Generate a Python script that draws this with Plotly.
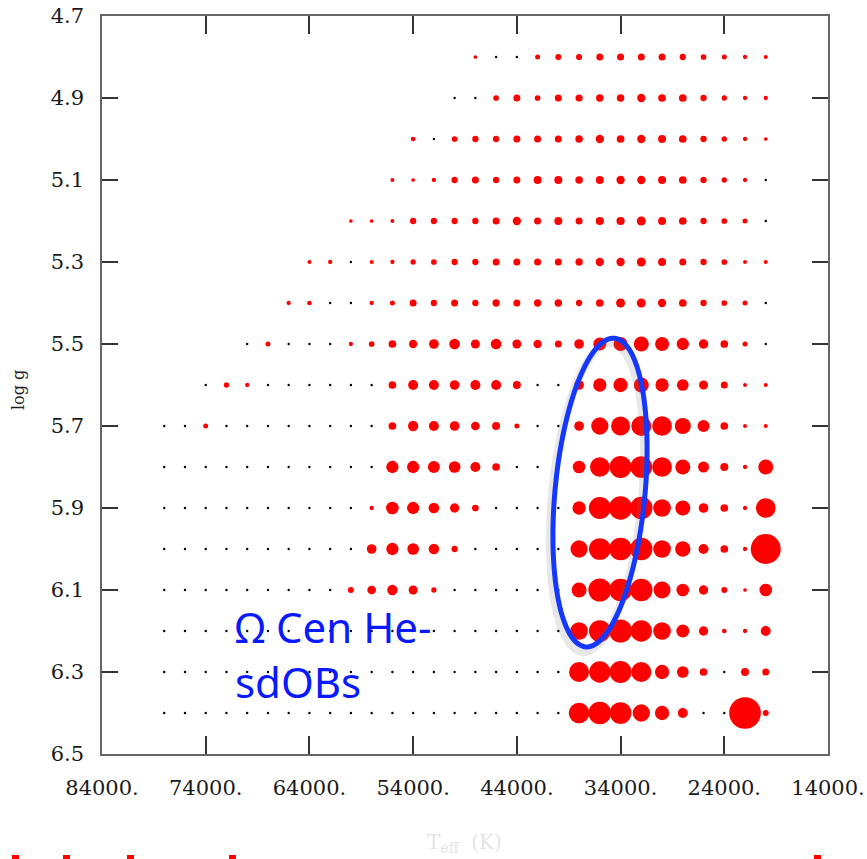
import numpy as np
import plotly.graph_objects as go

# ---------------- data ----------------
teff = [78000, 76000, 74000, 72000, 70000, 68000, 66000, 64000, 62000, 60000,
        58000, 56000, 54000, 52000, 50000, 48000, 46000, 44000, 42000, 40000,
        38000, 36000, 34000, 32000, 30000, 28000, 26000, 24000, 22000, 20000]

logg_rows = [4.8, 4.9, 5.0, 5.1, 5.2, 5.3, 5.4, 5.5, 5.6, 5.7, 5.8, 5.9, 6.0, 6.1, 6.2, 6.3, 6.4]

N = None  # no grid point
# weight per grid point (0 = computed, empty; None = not computed)
w48 = [N]*15 + [3.7, 0, 0, 5, 6, 6.2, 7, 7, 7, 7, 6.3, 5.7, 5, 4.3, 4]
w49 = [N]*14 + [0, 0, 5.7, 7, 5.7, 7, 7.2, 7.5, 7.5, 8.3, 7.7, 7.7, 6.3, 5.3, 4.3, 4.3]
w50 = [N]*12 + [4.7, 0, 5.7, 6.3, 6.3, 7, 7, 7, 7.5, 8.3, 7.7, 8.3, 8, 7.7, 6.3, 5.3, 4.3, 3.7]
w51 = [N]*11 + [4, 3.7, 4.3, 6.3, 7, 6.3, 7, 8, 8, 7.5, 8, 8.3, 8.3, 8, 7.7, 6.3, 5.3, 4.3, 0]
w52 = [N]*9 + [3.7, 3.7, 4, 6.3, 6.3, 6.3, 6.3, 7, 8.3, 7, 8, 7, 8.2, 8.2, 9, 8, 7.7, 6.3, 5.7, 5, 0]
w53 = [N]*7 + [4, 4.3, 0, 4, 4.3, 5.3, 5.7, 6.3, 6.3, 7, 7, 7, 7, 7.3, 8.3, 8.3, 9, 8, 7, 6.3, 5.7, 4, 4]
w54 = [N]*6 + [4.3, 4.7, 0, 0, 4.3, 5, 7, 6.3, 7, 6.3, 7.3, 7, 7.3, 7.5, 6.3, 7.7, 9, 9, 8.3, 7.7, 6.3, 5.7, 5, 0]
w55 = [N]*4 + [0, 5, 0, 0, 0, 4.3, 5.7, 7.7, 8.3, 9.7, 10.7, 9, 10.7, 9, 8.3, 7, 9.7, 13, 14, 15, 14, 12.3, 9.5, 7.7, 5, 0]
w56 = [N]*2 + [0, 5.3, 4.3, 0, 0, 0, 0, 0, 0, 7.7, 10, 10, 9.7, 10, 10, 8, 0, 0, 9.7, 13.3, 14.3, 15, 13.3, 11.7, 9, 7, 4, 4]
w57 = [0, 0, 5, 0, 0, 0, 0, 0, 0, 0, 0, 7.7, 10.3, 10, 9.7, 8.7, 8, 5, 0, 0, 9.7, 17.3, 19, 20, 19.7, 16, 12, 7.7, 4, 4]
w58 = [0]*11 + [12.3, 12.3, 12, 11.7, 10, 7.7, 0, 0, 0, 12.7, 19.7, 22, 21.7, 19.7, 15, 11, 8, 4.3, 15]
w59 = [0]*10 + [4.3, 12.7, 12.3, 10.7, 9.3, 6.7, 0, 0, 0, 0, 13.3, 22, 23.3, 22.3, 17.7, 15, 9.7, 7.7, 4.3, 19.7]
w60 = [0]*10 + [9.7, 12.3, 11.7, 10.5, 6.3, 0, 0, 0, 0, 0, 17.3, 21.7, 22.7, 22.3, 17.7, 15.3, 10, 7.7, 4.3, 30]
w61 = [0]*9 + [6, 8.7, 10.3, 9, 5.3, 0, 0, 0, 0, 0, 0, 15, 23, 22.7, 22.3, 17, 12.7, 9.3, 6, 3.7, 12.7]
w62 = [0]*7 + [2.7] + [0]*12 + [17.7, 21.7, 23, 21.3, 17.7, 13, 9.3, 4.7, 4.3, 10]
w63 = [0]*20 + [20, 21.3, 22, 20, 14.3, 11.7, 7.7, 0, 8, 7]
w64 = [0]*20 + [20.7, 22.7, 21.7, 17.3, 14.3, 10, 0, 0, 31.7, 6]

weights = [w48, w49, w50, w51, w52, w53, w54, w55, w56, w57, w58, w59, w60, w61, w62, w63, w64]

x_ticks = [84000, 74000, 64000, 54000, 44000, 34000, 24000, 14000]
x_ticktext = ["84000.", "74000.", "64000.", "54000.", "44000.", "34000.", "24000.", "14000."]
y_ticks = [4.7, 4.9, 5.1, 5.3, 5.5, 5.7, 5.9, 6.1, 6.3, 6.5]
y_ticktext = ["4.7", "4.9", "5.1", "5.3", "5.5", "5.7", "5.9", "6.1", "6.3", "6.5"]

# ---------------- layout constants ----------------
W, H = 867, 859
L, R, T, B = 102, 39, 16, 105
XMIN, XMAX = 84000, 14000
YMIN, YMAX = 4.7, 6.5
pw, ph = W - L - R, H - T - B

def px_to_data(px, py):
    x = XMIN + (px - L) / pw * (XMAX - XMIN)
    y = YMIN + (py - T) / ph * (YMAX - YMIN)
    return x, y

def px_to_paper(px, py):
    return (px - L) / pw, (H - B - py) / ph

# ---------------- marks ----------------
rx, ry, rs, bx, by = [], [], [], [], []
for g, row in zip(logg_rows, weights):
    for t, v in zip(teff, row):
        if v is None:
            continue
        if v > 0:
            rx.append(t); ry.append(g); rs.append(v)
        else:
            bx.append(t); by.append(g)

fig = go.Figure()
fig.add_trace(go.Scatter(x=bx, y=by, mode="markers",
                         marker=dict(color="black", size=2.4, line=dict(width=0)),
                         hoverinfo="skip", showlegend=False))
fig.add_trace(go.Scatter(x=rx, y=ry, mode="markers",
                         marker=dict(color="#ff0000", size=rs, sizemode="diameter",
                                     line=dict(width=0), opacity=1),
                         showlegend=False))

# ---------------- ellipse (annotation) ----------------
def ellipse_path(cx, cy, a, b, ux, uy, dx=0, dy=0, n=120):
    nrm = np.hypot(ux, uy); ux, uy = ux / nrm, uy / nrm
    vx, vy = -uy, ux
    t = np.linspace(0, 2 * np.pi, n)
    px = cx + dx + a * np.cos(t) * ux + b * np.sin(t) * vx
    py = cy + dy + a * np.cos(t) * uy + b * np.sin(t) * vy
    pts = [px_to_data(x, y) for x, y in zip(px, py)]
    return "M " + " L ".join(f"{x:.2f},{y:.5f}" for x, y in pts) + " Z"

shapes = []
shapes.append(dict(type="path", xref="x", yref="y",
                   path=ellipse_path(600, 492.5, 155, 45, 29, -309, dx=-3, dy=5),
                   line=dict(color="rgba(120,120,120,0.18)", width=8), layer="above"))
shapes.append(dict(type="path", xref="x", yref="y",
                   path=ellipse_path(600, 492.5, 155, 45, 29, -309),
                   line=dict(color="#1438ff", width=5), layer="above"))

# small red remnants at the bottom edge
for x0 in [12, 63, 127, 229, 814]:
    p0 = px_to_paper(x0, 855)
    p1 = px_to_paper(x0 + 7, 859)
    shapes.append(dict(type="rect", xref="paper", yref="paper",
                       x0=p0[0], x1=p1[0], y0=p1[1], y1=p0[1],
                       fillcolor="#ff0000", line=dict(width=0)))

annotations = []
tx, ty = px_to_data(233, 654)
annotations.append(dict(x=tx, y=ty, xref="x", yref="y", xanchor="left", yanchor="middle",
                        text="Ω Cen He-<br>sdOBs", showarrow=False, align="left",
                        font=dict(family="Noto Sans", size=42, color="#0a1aff")))
lx, ly = px_to_paper(18, 390)
annotations.append(dict(x=lx, y=ly, xref="paper", yref="paper", textangle=-90,
                        xanchor="center", yanchor="middle",
                        text="log g", showarrow=False,
                        font=dict(family="DejaVu Serif", size=16, color="#222")))
tx2, ty2 = px_to_paper(464, 843)
annotations.append(dict(x=tx2, y=ty2, xref="paper", yref="paper",
                        xanchor="center", yanchor="middle",
                        text="T<sub>eff</sub>  (K)", showarrow=False,
                        font=dict(family="DejaVu Serif", size=20, color="#e4e4e4")))

axis_common = dict(showgrid=False, zeroline=False, showline=True, linecolor="#666",
                   linewidth=1.5, mirror="ticks", ticks="inside", tickcolor="#333",
                   tickwidth=1.5, automargin=False,
                   tickfont=dict(family="DejaVu Serif", size=21, color="#1a1a1a"))

fig.update_layout(
    width=W, height=H, autosize=False,
    margin=dict(l=L, r=R, t=T, b=B, pad=0, autoexpand=False),
    plot_bgcolor="white", paper_bgcolor="white",
    xaxis=dict(range=[XMIN, XMAX], tickmode="array", tickvals=x_ticks, ticktext=x_ticktext,
               ticklen=18, ticklabelstandoff=14, **axis_common),
    yaxis=dict(range=[YMAX, YMIN], tickmode="array", tickvals=y_ticks, ticktext=y_ticktext,
               ticklen=16, ticklabelstandoff=12, **axis_common),
    shapes=shapes, annotations=annotations,
)

fig.write_html("out.html")
